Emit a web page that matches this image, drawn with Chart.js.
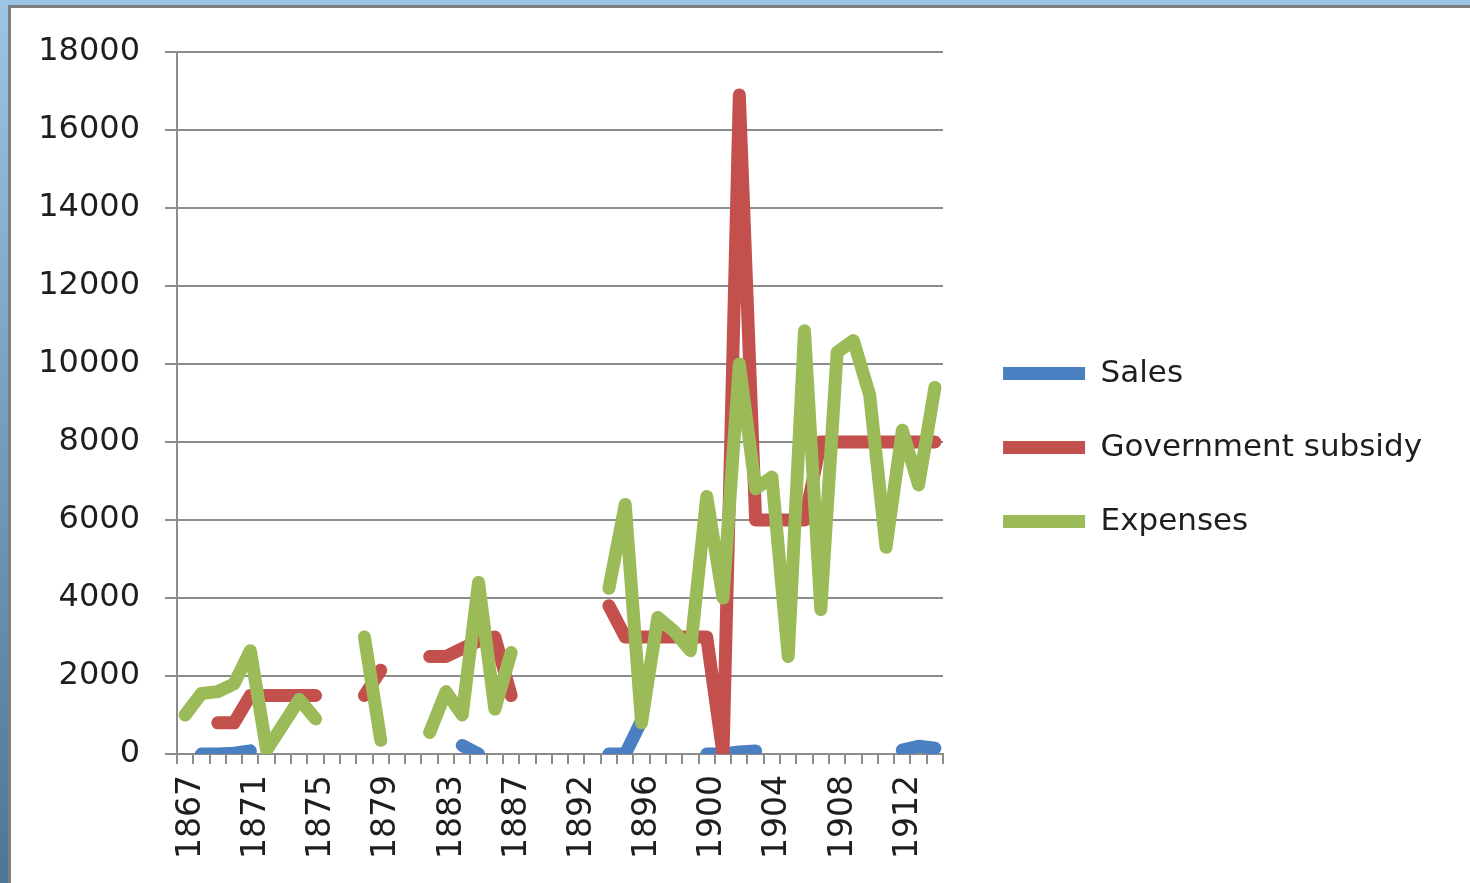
<!DOCTYPE html>
<html>
<head>
<meta charset="utf-8">
<script src="https://cdn.jsdelivr.net/npm/chart.js@4/dist/chart.umd.min.js"></script>
<style>
  body {
    margin: 0;
    width: 1470px;
    height: 883px;
    overflow: hidden;
    position: relative;
    background: linear-gradient(#9dc4e2, #4b7697);
  }
  #panel {
    position: absolute;
    left: 8px;
    top: 5px;
    width: 1480px;
    height: 900px;
    background: #fff;
    border-left: 3px solid #7f7f7f;
    border-top: 3px solid #7f7f7f;
  }
  #chart {
    position: absolute;
    left: 0;
    top: 0;
  }
</style>
</head>
<body>
<div id="panel"></div>
<canvas id="chart" width="1470" height="883"></canvas>
<script>
// years on the category axis (1890 is not in the source table)
const years = [
  1867, 1868, 1869, 1870, 1871, 1872, 1873, 1874, 1875, 1876, 1877, 1878,
  1879, 1880, 1881, 1882, 1883, 1884, 1885, 1886, 1887, 1888, 1889, 1891,
  1892, 1893, 1894, 1895, 1896, 1897, 1898, 1899, 1900, 1901, 1902, 1903,
  1904, 1905, 1906, 1907, 1908, 1909, 1910, 1911, 1912, 1913, 1914
];

const sales = [
  null, 0, 0, 20, 80, null, null, null, null, null, null, null,
  null, null, null, null, null, 220, 0, null, null, null, null, null,
  null, null, 0, 0, 850, null, null, null, 0, 0, 50, 80,
  null, null, null, null, null, null, null, null, 100, 200, 150
];

const subsidy = [
  null, null, 800, 800, 1500, 1500, 1500, 1500, 1500, null, null, 1500,
  2150, null, null, 2500, 2500, 2700, 2900, 3000, 1500, null, null, null,
  null, null, 3800, 3000, 3000, 3000, 3000, 3000, 3000, 0, 16900, 6000,
  6000, 6000, 6000, 8000, 8000, 8000, 8000, 8000, 8000, 8000, 8000
];

const expenses = [
  1000, 1550, 1600, 1800, 2650, 100, 750, 1400, 900, null, null, 3000,
  350, null, null, 550, 1600, 1000, 4400, 1150, 2600, null, null, null,
  null, null, 4250, 6400, 800, 3500, 3150, 2650, 6600, 4000, 10000, 6800,
  7100, 2500, 10850, 3700, 10300, 10600, 9200, 5300, 8300, 6900, 9400
];

const yTicks = [0, 2000, 4000, 6000, 8000, 10000, 12000, 14000, 16000, 18000];

const gridColor = "#8c8c8c";
const textColor = "#1e1e1e";
const font = "'DejaVu Sans', sans-serif";

function series(label, data, color, order) {
  return {
    label: label,
    data: data,
    borderColor: color,
    backgroundColor: color,
    borderWidth: 13,
    borderCapStyle: "round",
    borderJoinStyle: "round",
    pointRadius: 0,
    pointHoverRadius: 0,
    tension: 0,
    spanGaps: false,
    order: order
  };
}

const ctx = document.getElementById("chart").getContext("2d");
new Chart(ctx, {
  type: "line",
  data: {
    labels: years,
    datasets: [
      series("Sales", sales, "#4a7fc1", 3),
      series("Government subsidy", subsidy, "#c4504d", 2),
      series("Expenses", expenses, "#9bbb59", 1)
    ]
  },
  options: {
    responsive: false,
    animation: false,
    devicePixelRatio: 1,
    layout: {
      padding: { top: 12, left: 0, right: 38, bottom: 0 }
    },
    plugins: {
      tooltip: { enabled: false },
      // empty title only reserves the space above the plot
      title: {
        display: true,
        text: "",
        font: { size: 10 },
        padding: { top: 0, bottom: 28 }
      },
      legend: {
        position: "right",
        maxWidth: 600,
        labels: {
          usePointStyle: true,
          pointStyle: "line",
          pointStyleWidth: 82,
          padding: 43,
          color: textColor,
          font: { family: font, size: 31 },
          sort: (a, b) => a.datasetIndex - b.datasetIndex
        }
      }
    },
    scales: {
      x: {
        type: "category",
        offset: true,
        grid: {
          offset: true,
          drawOnChartArea: false,
          drawTicks: true,
          tickLength: 10,
          color: gridColor,
          lineWidth: 2
        },
        border: { color: gridColor, width: 2 },
        ticks: {
          autoSkip: false,
          minRotation: 90,
          maxRotation: 90,
          padding: 11,
          labelOffset: 6,
          color: textColor,
          font: { family: font, size: 33 },
          callback: function (value, index) {
            return index % 4 === 0 ? String(years[index]) : "";
          }
        },
        afterFit: function (scale) { scale.height = 129; }
      },
      y: {
        min: yTicks[0],
        max: yTicks[yTicks.length - 1],
        afterBuildTicks: function (scale) {
          scale.ticks = yTicks.map(v => ({ value: v }));
        },
        grid: {
          color: gridColor,
          lineWidth: 2,
          drawTicks: true,
          tickLength: 12
        },
        border: { color: gridColor, width: 2 },
        ticks: {
          padding: 25,
          color: textColor,
          font: { family: font, size: 32 },
          callback: v => String(v)
        },
        afterFit: function (scale) { scale.width = 177; }
      },
      gap: {
        type: "linear",
        position: "right",
        display: true,
        grid: { display: false },
        border: { display: false },
        ticks: { display: false },
        afterFit: function (scale) { scale.width = 17; }
      }
    }
  }
});
</script>
</body>
</html>
